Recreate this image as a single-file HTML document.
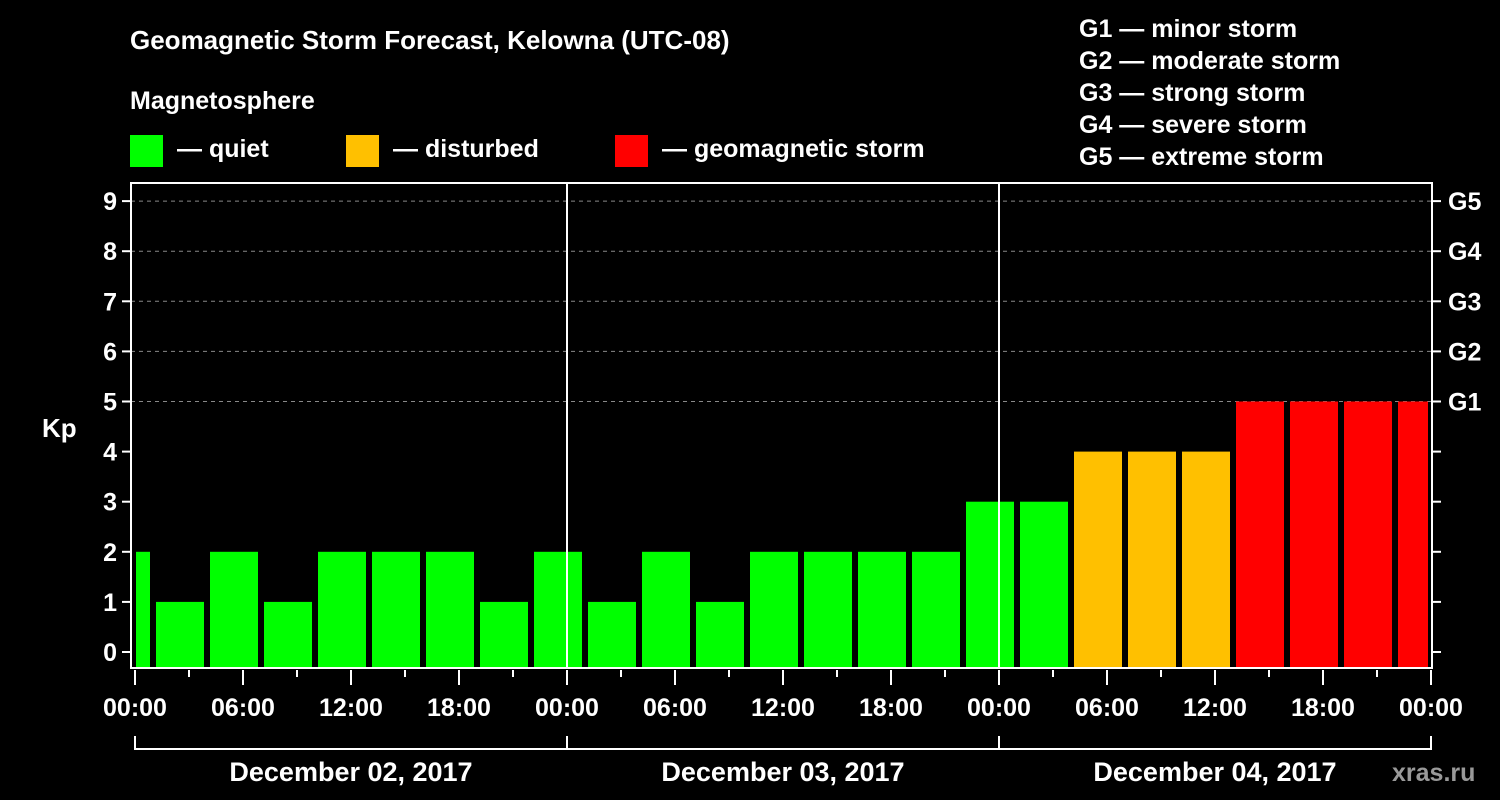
<!DOCTYPE html>
<html><head><meta charset="utf-8"><style>
html,body{margin:0;padding:0;background:#000;}
svg{display:block;font-family:"Liberation Sans",sans-serif;font-weight:bold;}
</style></head><body>
<svg id="chart" width="1500" height="800" viewBox="0 0 1500 800">
<rect width="1500" height="800" fill="#000"/>
<text x="130" y="49" fill="#fff" font-size="26">Geomagnetic Storm Forecast, Kelowna (UTC-08)</text>
<text x="130" y="109" fill="#fff" font-size="25">Magnetosphere</text>
<g><rect x="130" y="135" width="33" height="32" fill="#00ff00"/><text x="177" y="157" fill="#fff" font-size="25">— quiet</text></g>
<g><rect x="346" y="135" width="33" height="32" fill="#ffc000"/><text x="393" y="157" fill="#fff" font-size="25">— disturbed</text></g>
<g><rect x="615" y="135" width="33" height="32" fill="#ff0000"/><text x="662" y="157" fill="#fff" font-size="25">— geomagnetic storm</text></g>
<g fill="#fff" font-size="25">
<text x="1079" y="37">G1 — minor storm</text>
<text x="1079" y="69">G2 — moderate storm</text>
<text x="1079" y="101">G3 — strong storm</text>
<text x="1079" y="133">G4 — severe storm</text>
<text x="1079" y="165">G5 — extreme storm</text>
</g>
<text x="42" y="437" fill="#fff" font-size="26">Kp</text>
<g id="grid"></g><g id="bars"></g><g id="axes"></g>
<text x="1392" y="781" fill="#999" font-size="25">xras.ru</text>
</svg>
<script>
const barStartHours = [-2,1,4,7,10,13,16,19,22,25,28,31,34,37,40,43,46,49,52,55,58,61,64,67,70];
const kpValues = [2,1,2,1,2,2,2,1,2,1,2,1,2,2,2,2,3,3,4,4,4,5,5,5,5];
const yTicks = [0,1,2,3,4,5,6,7,8,9];
const gLabels = ["G1","G2","G3","G4","G5"];
const xTickLabels = ["00:00","06:00","12:00","18:00","00:00","06:00","12:00","18:00","00:00","06:00","12:00","18:00","00:00"];
const dayLabels = ["December 02, 2017","December 03, 2017","December 04, 2017"];
const NS="http://www.w3.org/2000/svg";
const L=131,R=1432,T=183,B=668;
const x=h=>135+h*(1296/72);
const y=v=>652-v*50.1;
function mk(t,a,p){const e=document.createElementNS(NS,t);for(const k in a)e.setAttribute(k,a[k]);p.appendChild(e);return e;}
const grid=document.getElementById('grid'),bars=document.getElementById('bars'),axes=document.getElementById('axes');
for(let v=5;v<=9;v++){const l=mk('line',{x1:L,x2:R,y1:y(v),y2:y(v),stroke:'#888','stroke-dasharray':'4,4','stroke-width':1},grid);

}
barStartHours.forEach((h,i)=>{const v=kpValues[i];
const x0=Math.max(x(h)+3,136),x1=Math.min(x(h+3)-3,1428);
const c=v>=5?'#ff0000':(v>=4?'#ffc000':'#00ff00');
const r=mk('rect',{x:x0,y:y(v),width:x1-x0,height:B-y(v),fill:c},bars);

});
// day separators
[24,48].forEach(h=>{const l=mk('line',{x1:x(h),x2:x(h),y1:T,y2:B,stroke:'#fff','stroke-width':2},axes);

});
const fr=mk('path',{d:`M${L} ${T}H${R}V${B}H${L}Z`,fill:'none',stroke:'#fff','stroke-width':2},axes);


yTicks.forEach(v=>{
mk('line',{x1:L-9,x2:L,y1:y(v),y2:y(v),stroke:'#fff','stroke-width':2},axes);
mk('line',{x1:R,x2:R+9,y1:y(v),y2:y(v),stroke:'#fff','stroke-width':2},axes);
const t=mk('text',{x:L-14,y:y(v)+9,fill:'#fff','font-size':25,'text-anchor':'end'},axes);t.textContent=v;

});
gLabels.forEach((g,i)=>{const t=mk('text',{x:1448,y:y(5+i)+9,fill:'#fff','font-size':25},axes);t.textContent=g;

});
for(let h=0;h<=72;h+=3){const major=h%6===0;
mk('line',{x1:x(h),x2:x(h),y1:B+2,y2:B+(major?17:9),stroke:'#fff','stroke-width':2},axes);}
xTickLabels.forEach((s,i)=>{const t=mk('text',{x:x(i*6),y:716,fill:'#fff','font-size':25,'text-anchor':'middle'},axes);t.textContent=s;

});
const br=mk('path',{d:`M${x(0)} 736V749H${x(72)}V736M${x(24)} 736V749M${x(48)} 736V749`,fill:'none',stroke:'#fff','stroke-width':2},axes);


dayLabels.forEach((s,i)=>{const t=mk('text',{x:x(i*24+12),y:781,fill:'#fff','font-size':27,'text-anchor':'middle'},axes);t.textContent=s;

});
</script>
</body></html>
